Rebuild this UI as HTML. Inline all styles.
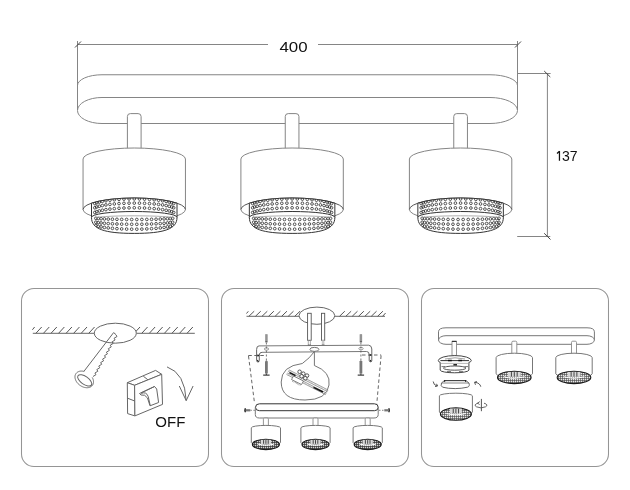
<!DOCTYPE html>
<html><head><meta charset="utf-8"><style>
html,body{margin:0;padding:0;background:#fff;}
svg{display:block;}
text{font-family:"Liberation Sans",sans-serif;fill:#111;}
svg{will-change:transform;}
</style></head><body>
<svg width="630" height="490" viewBox="0 0 630 490">
<defs><pattern id="grid" width="2" height="2" patternUnits="userSpaceOnUse"><rect width="2" height="2" fill="#d0d0d0"/><path d="M0 0.5H2M0.5 0V2" stroke="#333" stroke-width="0.7"/></pattern><pattern id="grid3" width="2" height="2" patternUnits="userSpaceOnUse"><rect width="2" height="2" fill="#e8e8e8"/><path d="M0 0.5H2M0.5 0V2" stroke="#444" stroke-width="0.6"/></pattern></defs>
<path d="M77.5 44.5H268M318 44.5H517.5" stroke="#858585" stroke-width="1" fill="none"/>
<path d="M77.5 41V110M517.5 41V110" stroke="#858585" stroke-width="1" fill="none"/>
<path d="M75 47.5L81 41.5M515 47.5L521 41.5" stroke="#444" stroke-width="1" fill="none"/>
<path d="M517.5 73.5H550.6M517.2 236.5H550.3M547.4 73.5V236.5" stroke="#858585" stroke-width="1" fill="none"/>
<path d="M544.2 71L550.3 77M544.2 233.3L550.5 239.5" stroke="#444" stroke-width="1" fill="none"/>
<path d="M77.5 85.5A24.5 10.75 0 0 1 102 74.75H490A27.5 10.75 0 0 1 517.5 85.5" stroke="#858585" stroke-width="1" fill="none"/>
<path d="M102 97.5H490A27.5 13 0 0 1 517.5 110.5A27.5 13 0 0 1 490 123.5H102A24.5 13 0 0 1 77.5 110.5A24.5 13 0 0 1 102 97.5Z" stroke="#858585" stroke-width="1" fill="none"/>
<path d="M127.4 150V116.5Q127.4 113.6 130.4 113.6H138.1Q141.1 113.6 141.1 116.5V150" fill="#fff" stroke="#858585" stroke-width="1"/>
<path d="M83.05 159A51.2 11 0 0 1 185.45 159V209.5A51.2 11.5 0 0 1 83.05 209.5Z" fill="#fff" stroke="#858585" stroke-width="1"/>
<path d="M83.05 209.5A51.2 11.5 0 0 1 185.45 209.5" fill="none" stroke="#555" stroke-width="1"/>
<clipPath id="rc134"><path d="M91.5 203.17V217.5C91.5 229 104.25 233.4 134.25 233.4C164.25 233.4 177 229 177 217.5V203.17A51.2 11.5 0 0 0 91.5 203.17Z"/></clipPath>
<path d="M91.5 203.17V217.5C91.5 229 104.25 233.4 134.25 233.4C164.25 233.4 177 229 177 217.5V203.17A51.2 11.5 0 0 0 91.5 203.17Z" fill="#fff" stroke="none"/>
<g clip-path="url(#rc134)" fill="none" stroke="#2a2a2a" stroke-width="0.8"><circle cx="173.67" cy="203.58" r="1.35"/><circle cx="171.74" cy="202.78" r="1.35"/><circle cx="169.22" cy="202.04" r="1.35"/><circle cx="166.16" cy="201.35" r="1.35"/><circle cx="162.59" cy="200.73" r="1.35"/><circle cx="158.58" cy="200.19" r="1.35"/><circle cx="154.19" cy="199.74" r="1.35"/><circle cx="149.49" cy="199.37" r="1.35"/><circle cx="144.54" cy="199.11" r="1.35"/><circle cx="139.44" cy="198.95" r="1.35"/><circle cx="134.25" cy="198.9" r="1.35"/><circle cx="129.06" cy="198.95" r="1.35"/><circle cx="123.96" cy="199.11" r="1.35"/><circle cx="119.01" cy="199.37" r="1.35"/><circle cx="114.31" cy="199.74" r="1.35"/><circle cx="109.92" cy="200.19" r="1.35"/><circle cx="105.91" cy="200.73" r="1.35"/><circle cx="102.34" cy="201.35" r="1.35"/><circle cx="99.28" cy="202.04" r="1.35"/><circle cx="96.76" cy="202.78" r="1.35"/><circle cx="94.83" cy="203.58" r="1.35"/><circle cx="173.67" cy="207.78" r="1.35"/><circle cx="171.74" cy="206.98" r="1.35"/><circle cx="169.22" cy="206.24" r="1.35"/><circle cx="166.16" cy="205.55" r="1.35"/><circle cx="162.59" cy="204.93" r="1.35"/><circle cx="158.58" cy="204.39" r="1.35"/><circle cx="154.19" cy="203.94" r="1.35"/><circle cx="149.49" cy="203.57" r="1.35"/><circle cx="144.54" cy="203.31" r="1.35"/><circle cx="139.44" cy="203.15" r="1.35"/><circle cx="134.25" cy="203.1" r="1.35"/><circle cx="129.06" cy="203.15" r="1.35"/><circle cx="123.96" cy="203.31" r="1.35"/><circle cx="119.01" cy="203.57" r="1.35"/><circle cx="114.31" cy="203.94" r="1.35"/><circle cx="109.92" cy="204.39" r="1.35"/><circle cx="105.91" cy="204.93" r="1.35"/><circle cx="102.34" cy="205.55" r="1.35"/><circle cx="99.28" cy="206.24" r="1.35"/><circle cx="96.76" cy="206.98" r="1.35"/><circle cx="94.83" cy="207.78" r="1.35"/><circle cx="173.67" cy="212.48" r="1.35"/><circle cx="171.74" cy="211.68" r="1.35"/><circle cx="169.22" cy="210.94" r="1.35"/><circle cx="166.16" cy="210.25" r="1.35"/><circle cx="162.59" cy="209.63" r="1.35"/><circle cx="158.58" cy="209.09" r="1.35"/><circle cx="154.19" cy="208.64" r="1.35"/><circle cx="149.49" cy="208.27" r="1.35"/><circle cx="144.54" cy="208.01" r="1.35"/><circle cx="139.44" cy="207.85" r="1.35"/><circle cx="134.25" cy="207.8" r="1.35"/><circle cx="129.06" cy="207.85" r="1.35"/><circle cx="123.96" cy="208.01" r="1.35"/><circle cx="119.01" cy="208.27" r="1.35"/><circle cx="114.31" cy="208.64" r="1.35"/><circle cx="109.92" cy="209.09" r="1.35"/><circle cx="105.91" cy="209.63" r="1.35"/><circle cx="102.34" cy="210.25" r="1.35"/><circle cx="99.28" cy="210.94" r="1.35"/><circle cx="96.76" cy="211.68" r="1.35"/><circle cx="94.83" cy="212.48" r="1.35"/><circle cx="172.65" cy="218.31" r="1.35"/><circle cx="170.3" cy="218.53" r="1.35"/><circle cx="167.43" cy="218.73" r="1.35"/><circle cx="164.06" cy="218.91" r="1.35"/><circle cx="160.26" cy="219.07" r="1.35"/><circle cx="156.07" cy="219.21" r="1.35"/><circle cx="151.57" cy="219.32" r="1.35"/><circle cx="146.81" cy="219.41" r="1.35"/><circle cx="141.86" cy="219.47" r="1.35"/><circle cx="136.8" cy="219.5" r="1.35"/><circle cx="131.7" cy="219.5" r="1.35"/><circle cx="126.64" cy="219.47" r="1.35"/><circle cx="121.69" cy="219.41" r="1.35"/><circle cx="116.93" cy="219.32" r="1.35"/><circle cx="112.43" cy="219.21" r="1.35"/><circle cx="108.24" cy="219.07" r="1.35"/><circle cx="104.44" cy="218.91" r="1.35"/><circle cx="101.07" cy="218.73" r="1.35"/><circle cx="98.2" cy="218.53" r="1.35"/><circle cx="95.85" cy="218.31" r="1.35"/><circle cx="172.65" cy="222.22" r="1.35"/><circle cx="170.3" cy="222.6" r="1.35"/><circle cx="167.43" cy="222.95" r="1.35"/><circle cx="164.06" cy="223.27" r="1.35"/><circle cx="160.26" cy="223.55" r="1.35"/><circle cx="156.07" cy="223.79" r="1.35"/><circle cx="151.57" cy="223.99" r="1.35"/><circle cx="146.81" cy="224.14" r="1.35"/><circle cx="141.86" cy="224.24" r="1.35"/><circle cx="136.8" cy="224.29" r="1.35"/><circle cx="131.7" cy="224.29" r="1.35"/><circle cx="126.64" cy="224.24" r="1.35"/><circle cx="121.69" cy="224.14" r="1.35"/><circle cx="116.93" cy="223.99" r="1.35"/><circle cx="112.43" cy="223.79" r="1.35"/><circle cx="108.24" cy="223.55" r="1.35"/><circle cx="104.44" cy="223.27" r="1.35"/><circle cx="101.07" cy="222.95" r="1.35"/><circle cx="98.2" cy="222.6" r="1.35"/><circle cx="95.85" cy="222.22" r="1.35"/><circle cx="172.65" cy="225.63" r="1.35"/><circle cx="170.3" cy="226.28" r="1.35"/><circle cx="167.43" cy="226.88" r="1.35"/><circle cx="164.06" cy="227.43" r="1.35"/><circle cx="160.26" cy="227.91" r="1.35"/><circle cx="156.07" cy="228.33" r="1.35"/><circle cx="151.57" cy="228.67" r="1.35"/><circle cx="146.81" cy="228.93" r="1.35"/><circle cx="141.86" cy="229.1" r="1.35"/><circle cx="136.8" cy="229.19" r="1.35"/><circle cx="131.7" cy="229.19" r="1.35"/><circle cx="126.64" cy="229.1" r="1.35"/><circle cx="121.69" cy="228.93" r="1.35"/><circle cx="116.93" cy="228.67" r="1.35"/><circle cx="112.43" cy="228.33" r="1.35"/><circle cx="108.24" cy="227.91" r="1.35"/><circle cx="104.44" cy="227.43" r="1.35"/><circle cx="101.07" cy="226.88" r="1.35"/><circle cx="98.2" cy="226.28" r="1.35"/><circle cx="95.85" cy="225.63" r="1.35"/></g>
<path d="M94 218.2A40.25 2.4 0 0 1 174.5 218.2" fill="none" stroke="#999" stroke-width="0.8"/>
<path d="M91.5 217.3A42.75 5.8 0 0 1 177 217.3" fill="none" stroke="#333" stroke-width="1"/>
<path d="M91.5 203.17V217.5C91.5 229 104.25 233.4 134.25 233.4C164.25 233.4 177 229 177 217.5V203.17A51.2 11.5 0 0 0 91.5 203.17Z" fill="none" stroke="#333" stroke-width="1"/>
<path d="M285.25 150V116.5Q285.25 113.6 288.25 113.6H295.95Q298.95 113.6 298.95 116.5V150" fill="#fff" stroke="#858585" stroke-width="1"/>
<path d="M240.9 159A51.2 11 0 0 1 343.3 159V209.5A51.2 11.5 0 0 1 240.9 209.5Z" fill="#fff" stroke="#858585" stroke-width="1"/>
<path d="M240.9 209.5A51.2 11.5 0 0 1 343.3 209.5" fill="none" stroke="#555" stroke-width="1"/>
<clipPath id="rc292"><path d="M249.35 203.17V217.5C249.35 229 262.1 233.4 292.1 233.4C322.1 233.4 334.85 229 334.85 217.5V203.17A51.2 11.5 0 0 0 249.35 203.17Z"/></clipPath>
<path d="M249.35 203.17V217.5C249.35 229 262.1 233.4 292.1 233.4C322.1 233.4 334.85 229 334.85 217.5V203.17A51.2 11.5 0 0 0 249.35 203.17Z" fill="#fff" stroke="none"/>
<g clip-path="url(#rc292)" fill="none" stroke="#2a2a2a" stroke-width="0.8"><circle cx="331.52" cy="203.58" r="1.35"/><circle cx="329.59" cy="202.78" r="1.35"/><circle cx="327.07" cy="202.04" r="1.35"/><circle cx="324.01" cy="201.35" r="1.35"/><circle cx="320.44" cy="200.73" r="1.35"/><circle cx="316.43" cy="200.19" r="1.35"/><circle cx="312.04" cy="199.74" r="1.35"/><circle cx="307.34" cy="199.37" r="1.35"/><circle cx="302.39" cy="199.11" r="1.35"/><circle cx="297.29" cy="198.95" r="1.35"/><circle cx="292.1" cy="198.9" r="1.35"/><circle cx="286.91" cy="198.95" r="1.35"/><circle cx="281.81" cy="199.11" r="1.35"/><circle cx="276.86" cy="199.37" r="1.35"/><circle cx="272.16" cy="199.74" r="1.35"/><circle cx="267.77" cy="200.19" r="1.35"/><circle cx="263.76" cy="200.73" r="1.35"/><circle cx="260.19" cy="201.35" r="1.35"/><circle cx="257.13" cy="202.04" r="1.35"/><circle cx="254.61" cy="202.78" r="1.35"/><circle cx="252.68" cy="203.58" r="1.35"/><circle cx="331.52" cy="207.78" r="1.35"/><circle cx="329.59" cy="206.98" r="1.35"/><circle cx="327.07" cy="206.24" r="1.35"/><circle cx="324.01" cy="205.55" r="1.35"/><circle cx="320.44" cy="204.93" r="1.35"/><circle cx="316.43" cy="204.39" r="1.35"/><circle cx="312.04" cy="203.94" r="1.35"/><circle cx="307.34" cy="203.57" r="1.35"/><circle cx="302.39" cy="203.31" r="1.35"/><circle cx="297.29" cy="203.15" r="1.35"/><circle cx="292.1" cy="203.1" r="1.35"/><circle cx="286.91" cy="203.15" r="1.35"/><circle cx="281.81" cy="203.31" r="1.35"/><circle cx="276.86" cy="203.57" r="1.35"/><circle cx="272.16" cy="203.94" r="1.35"/><circle cx="267.77" cy="204.39" r="1.35"/><circle cx="263.76" cy="204.93" r="1.35"/><circle cx="260.19" cy="205.55" r="1.35"/><circle cx="257.13" cy="206.24" r="1.35"/><circle cx="254.61" cy="206.98" r="1.35"/><circle cx="252.68" cy="207.78" r="1.35"/><circle cx="331.52" cy="212.48" r="1.35"/><circle cx="329.59" cy="211.68" r="1.35"/><circle cx="327.07" cy="210.94" r="1.35"/><circle cx="324.01" cy="210.25" r="1.35"/><circle cx="320.44" cy="209.63" r="1.35"/><circle cx="316.43" cy="209.09" r="1.35"/><circle cx="312.04" cy="208.64" r="1.35"/><circle cx="307.34" cy="208.27" r="1.35"/><circle cx="302.39" cy="208.01" r="1.35"/><circle cx="297.29" cy="207.85" r="1.35"/><circle cx="292.1" cy="207.8" r="1.35"/><circle cx="286.91" cy="207.85" r="1.35"/><circle cx="281.81" cy="208.01" r="1.35"/><circle cx="276.86" cy="208.27" r="1.35"/><circle cx="272.16" cy="208.64" r="1.35"/><circle cx="267.77" cy="209.09" r="1.35"/><circle cx="263.76" cy="209.63" r="1.35"/><circle cx="260.19" cy="210.25" r="1.35"/><circle cx="257.13" cy="210.94" r="1.35"/><circle cx="254.61" cy="211.68" r="1.35"/><circle cx="252.68" cy="212.48" r="1.35"/><circle cx="330.5" cy="218.31" r="1.35"/><circle cx="328.15" cy="218.53" r="1.35"/><circle cx="325.28" cy="218.73" r="1.35"/><circle cx="321.91" cy="218.91" r="1.35"/><circle cx="318.11" cy="219.07" r="1.35"/><circle cx="313.92" cy="219.21" r="1.35"/><circle cx="309.42" cy="219.32" r="1.35"/><circle cx="304.66" cy="219.41" r="1.35"/><circle cx="299.71" cy="219.47" r="1.35"/><circle cx="294.65" cy="219.5" r="1.35"/><circle cx="289.55" cy="219.5" r="1.35"/><circle cx="284.49" cy="219.47" r="1.35"/><circle cx="279.54" cy="219.41" r="1.35"/><circle cx="274.78" cy="219.32" r="1.35"/><circle cx="270.28" cy="219.21" r="1.35"/><circle cx="266.09" cy="219.07" r="1.35"/><circle cx="262.29" cy="218.91" r="1.35"/><circle cx="258.92" cy="218.73" r="1.35"/><circle cx="256.05" cy="218.53" r="1.35"/><circle cx="253.7" cy="218.31" r="1.35"/><circle cx="330.5" cy="222.22" r="1.35"/><circle cx="328.15" cy="222.6" r="1.35"/><circle cx="325.28" cy="222.95" r="1.35"/><circle cx="321.91" cy="223.27" r="1.35"/><circle cx="318.11" cy="223.55" r="1.35"/><circle cx="313.92" cy="223.79" r="1.35"/><circle cx="309.42" cy="223.99" r="1.35"/><circle cx="304.66" cy="224.14" r="1.35"/><circle cx="299.71" cy="224.24" r="1.35"/><circle cx="294.65" cy="224.29" r="1.35"/><circle cx="289.55" cy="224.29" r="1.35"/><circle cx="284.49" cy="224.24" r="1.35"/><circle cx="279.54" cy="224.14" r="1.35"/><circle cx="274.78" cy="223.99" r="1.35"/><circle cx="270.28" cy="223.79" r="1.35"/><circle cx="266.09" cy="223.55" r="1.35"/><circle cx="262.29" cy="223.27" r="1.35"/><circle cx="258.92" cy="222.95" r="1.35"/><circle cx="256.05" cy="222.6" r="1.35"/><circle cx="253.7" cy="222.22" r="1.35"/><circle cx="330.5" cy="225.63" r="1.35"/><circle cx="328.15" cy="226.28" r="1.35"/><circle cx="325.28" cy="226.88" r="1.35"/><circle cx="321.91" cy="227.43" r="1.35"/><circle cx="318.11" cy="227.91" r="1.35"/><circle cx="313.92" cy="228.33" r="1.35"/><circle cx="309.42" cy="228.67" r="1.35"/><circle cx="304.66" cy="228.93" r="1.35"/><circle cx="299.71" cy="229.1" r="1.35"/><circle cx="294.65" cy="229.19" r="1.35"/><circle cx="289.55" cy="229.19" r="1.35"/><circle cx="284.49" cy="229.1" r="1.35"/><circle cx="279.54" cy="228.93" r="1.35"/><circle cx="274.78" cy="228.67" r="1.35"/><circle cx="270.28" cy="228.33" r="1.35"/><circle cx="266.09" cy="227.91" r="1.35"/><circle cx="262.29" cy="227.43" r="1.35"/><circle cx="258.92" cy="226.88" r="1.35"/><circle cx="256.05" cy="226.28" r="1.35"/><circle cx="253.7" cy="225.63" r="1.35"/></g>
<path d="M251.85 218.2A40.25 2.4 0 0 1 332.35 218.2" fill="none" stroke="#999" stroke-width="0.8"/>
<path d="M249.35 217.3A42.75 5.8 0 0 1 334.85 217.3" fill="none" stroke="#333" stroke-width="1"/>
<path d="M249.35 203.17V217.5C249.35 229 262.1 233.4 292.1 233.4C322.1 233.4 334.85 229 334.85 217.5V203.17A51.2 11.5 0 0 0 249.35 203.17Z" fill="none" stroke="#333" stroke-width="1"/>
<path d="M453.75 150V116.5Q453.75 113.6 456.75 113.6H464.45Q467.45 113.6 467.45 116.5V150" fill="#fff" stroke="#858585" stroke-width="1"/>
<path d="M409.4 159A51.2 11 0 0 1 511.8 159V209.5A51.2 11.5 0 0 1 409.4 209.5Z" fill="#fff" stroke="#858585" stroke-width="1"/>
<path d="M409.4 209.5A51.2 11.5 0 0 1 511.8 209.5" fill="none" stroke="#555" stroke-width="1"/>
<clipPath id="rc460"><path d="M417.85 203.17V217.5C417.85 229 430.6 233.4 460.6 233.4C490.6 233.4 503.35 229 503.35 217.5V203.17A51.2 11.5 0 0 0 417.85 203.17Z"/></clipPath>
<path d="M417.85 203.17V217.5C417.85 229 430.6 233.4 460.6 233.4C490.6 233.4 503.35 229 503.35 217.5V203.17A51.2 11.5 0 0 0 417.85 203.17Z" fill="#fff" stroke="none"/>
<g clip-path="url(#rc460)" fill="none" stroke="#2a2a2a" stroke-width="0.8"><circle cx="500.02" cy="203.58" r="1.35"/><circle cx="498.09" cy="202.78" r="1.35"/><circle cx="495.57" cy="202.04" r="1.35"/><circle cx="492.51" cy="201.35" r="1.35"/><circle cx="488.94" cy="200.73" r="1.35"/><circle cx="484.93" cy="200.19" r="1.35"/><circle cx="480.54" cy="199.74" r="1.35"/><circle cx="475.84" cy="199.37" r="1.35"/><circle cx="470.89" cy="199.11" r="1.35"/><circle cx="465.79" cy="198.95" r="1.35"/><circle cx="460.6" cy="198.9" r="1.35"/><circle cx="455.41" cy="198.95" r="1.35"/><circle cx="450.31" cy="199.11" r="1.35"/><circle cx="445.36" cy="199.37" r="1.35"/><circle cx="440.66" cy="199.74" r="1.35"/><circle cx="436.27" cy="200.19" r="1.35"/><circle cx="432.26" cy="200.73" r="1.35"/><circle cx="428.69" cy="201.35" r="1.35"/><circle cx="425.63" cy="202.04" r="1.35"/><circle cx="423.11" cy="202.78" r="1.35"/><circle cx="421.18" cy="203.58" r="1.35"/><circle cx="500.02" cy="207.78" r="1.35"/><circle cx="498.09" cy="206.98" r="1.35"/><circle cx="495.57" cy="206.24" r="1.35"/><circle cx="492.51" cy="205.55" r="1.35"/><circle cx="488.94" cy="204.93" r="1.35"/><circle cx="484.93" cy="204.39" r="1.35"/><circle cx="480.54" cy="203.94" r="1.35"/><circle cx="475.84" cy="203.57" r="1.35"/><circle cx="470.89" cy="203.31" r="1.35"/><circle cx="465.79" cy="203.15" r="1.35"/><circle cx="460.6" cy="203.1" r="1.35"/><circle cx="455.41" cy="203.15" r="1.35"/><circle cx="450.31" cy="203.31" r="1.35"/><circle cx="445.36" cy="203.57" r="1.35"/><circle cx="440.66" cy="203.94" r="1.35"/><circle cx="436.27" cy="204.39" r="1.35"/><circle cx="432.26" cy="204.93" r="1.35"/><circle cx="428.69" cy="205.55" r="1.35"/><circle cx="425.63" cy="206.24" r="1.35"/><circle cx="423.11" cy="206.98" r="1.35"/><circle cx="421.18" cy="207.78" r="1.35"/><circle cx="500.02" cy="212.48" r="1.35"/><circle cx="498.09" cy="211.68" r="1.35"/><circle cx="495.57" cy="210.94" r="1.35"/><circle cx="492.51" cy="210.25" r="1.35"/><circle cx="488.94" cy="209.63" r="1.35"/><circle cx="484.93" cy="209.09" r="1.35"/><circle cx="480.54" cy="208.64" r="1.35"/><circle cx="475.84" cy="208.27" r="1.35"/><circle cx="470.89" cy="208.01" r="1.35"/><circle cx="465.79" cy="207.85" r="1.35"/><circle cx="460.6" cy="207.8" r="1.35"/><circle cx="455.41" cy="207.85" r="1.35"/><circle cx="450.31" cy="208.01" r="1.35"/><circle cx="445.36" cy="208.27" r="1.35"/><circle cx="440.66" cy="208.64" r="1.35"/><circle cx="436.27" cy="209.09" r="1.35"/><circle cx="432.26" cy="209.63" r="1.35"/><circle cx="428.69" cy="210.25" r="1.35"/><circle cx="425.63" cy="210.94" r="1.35"/><circle cx="423.11" cy="211.68" r="1.35"/><circle cx="421.18" cy="212.48" r="1.35"/><circle cx="499" cy="218.31" r="1.35"/><circle cx="496.65" cy="218.53" r="1.35"/><circle cx="493.78" cy="218.73" r="1.35"/><circle cx="490.41" cy="218.91" r="1.35"/><circle cx="486.61" cy="219.07" r="1.35"/><circle cx="482.42" cy="219.21" r="1.35"/><circle cx="477.92" cy="219.32" r="1.35"/><circle cx="473.16" cy="219.41" r="1.35"/><circle cx="468.21" cy="219.47" r="1.35"/><circle cx="463.15" cy="219.5" r="1.35"/><circle cx="458.05" cy="219.5" r="1.35"/><circle cx="452.99" cy="219.47" r="1.35"/><circle cx="448.04" cy="219.41" r="1.35"/><circle cx="443.28" cy="219.32" r="1.35"/><circle cx="438.78" cy="219.21" r="1.35"/><circle cx="434.59" cy="219.07" r="1.35"/><circle cx="430.79" cy="218.91" r="1.35"/><circle cx="427.42" cy="218.73" r="1.35"/><circle cx="424.55" cy="218.53" r="1.35"/><circle cx="422.2" cy="218.31" r="1.35"/><circle cx="499" cy="222.22" r="1.35"/><circle cx="496.65" cy="222.6" r="1.35"/><circle cx="493.78" cy="222.95" r="1.35"/><circle cx="490.41" cy="223.27" r="1.35"/><circle cx="486.61" cy="223.55" r="1.35"/><circle cx="482.42" cy="223.79" r="1.35"/><circle cx="477.92" cy="223.99" r="1.35"/><circle cx="473.16" cy="224.14" r="1.35"/><circle cx="468.21" cy="224.24" r="1.35"/><circle cx="463.15" cy="224.29" r="1.35"/><circle cx="458.05" cy="224.29" r="1.35"/><circle cx="452.99" cy="224.24" r="1.35"/><circle cx="448.04" cy="224.14" r="1.35"/><circle cx="443.28" cy="223.99" r="1.35"/><circle cx="438.78" cy="223.79" r="1.35"/><circle cx="434.59" cy="223.55" r="1.35"/><circle cx="430.79" cy="223.27" r="1.35"/><circle cx="427.42" cy="222.95" r="1.35"/><circle cx="424.55" cy="222.6" r="1.35"/><circle cx="422.2" cy="222.22" r="1.35"/><circle cx="499" cy="225.63" r="1.35"/><circle cx="496.65" cy="226.28" r="1.35"/><circle cx="493.78" cy="226.88" r="1.35"/><circle cx="490.41" cy="227.43" r="1.35"/><circle cx="486.61" cy="227.91" r="1.35"/><circle cx="482.42" cy="228.33" r="1.35"/><circle cx="477.92" cy="228.67" r="1.35"/><circle cx="473.16" cy="228.93" r="1.35"/><circle cx="468.21" cy="229.1" r="1.35"/><circle cx="463.15" cy="229.19" r="1.35"/><circle cx="458.05" cy="229.19" r="1.35"/><circle cx="452.99" cy="229.1" r="1.35"/><circle cx="448.04" cy="228.93" r="1.35"/><circle cx="443.28" cy="228.67" r="1.35"/><circle cx="438.78" cy="228.33" r="1.35"/><circle cx="434.59" cy="227.91" r="1.35"/><circle cx="430.79" cy="227.43" r="1.35"/><circle cx="427.42" cy="226.88" r="1.35"/><circle cx="424.55" cy="226.28" r="1.35"/><circle cx="422.2" cy="225.63" r="1.35"/></g>
<path d="M420.35 218.2A40.25 2.4 0 0 1 500.85 218.2" fill="none" stroke="#999" stroke-width="0.8"/>
<path d="M417.85 217.3A42.75 5.8 0 0 1 503.35 217.3" fill="none" stroke="#333" stroke-width="1"/>
<path d="M417.85 203.17V217.5C417.85 229 430.6 233.4 460.6 233.4C490.6 233.4 503.35 229 503.35 217.5V203.17A51.2 11.5 0 0 0 417.85 203.17Z" fill="none" stroke="#333" stroke-width="1"/>
<rect x="21.5" y="288.5" width="187" height="178" rx="12.5" fill="none" stroke="#959595" stroke-width="1.05"/>
<rect x="221.5" y="288.5" width="187" height="178" rx="12.5" fill="none" stroke="#959595" stroke-width="1.05"/>
<rect x="421.5" y="288.5" width="187" height="178" rx="12.5" fill="none" stroke="#959595" stroke-width="1.05"/>
<path d="M32.8 333.3H94.4M136.3 333.3H194.8" stroke="#666" stroke-width="1" fill="none"/>
<path d="M35.9 333.3L41.7 327M43.45 333.3L49.25 327M51 333.3L56.8 327M58.55 333.3L64.35 327M66.1 333.3L71.9 327M73.65 333.3L79.45 327M81.2 333.3L87 327M88.75 333.3L94.55 327M134.2 333.3L140 327M141.75 333.3L147.55 327M149.3 333.3L155.1 327M156.85 333.3L162.65 327M164.4 333.3L170.2 327M171.95 333.3L177.75 327M179.5 333.3L185.3 327M187.05 333.3L192.85 327M32.4 329.8L34.6 327" stroke="#555" stroke-width="1" fill="none"/>
<ellipse cx="115.3" cy="333.2" rx="21" ry="10" fill="#fff" stroke="#666" stroke-width="1"/>
<path d="M83.9 371.4L113.6 332.6L116 334.6" stroke="#666" stroke-width="1" fill="none"/>
<path d="M116 334.8L117.01 336.49L114.08 338.28L115.09 339.96L112.17 341.75L113.18 343.44L110.25 345.23L111.26 346.91L108.33 348.7L109.34 350.39L106.42 352.18L107.43 353.86L104.5 355.65L105.51 357.34L102.58 359.12L103.59 360.81L100.67 362.6L101.68 364.29L98.75 366.07L99.76 367.76L96.83 369.55L97.84 371.24L94.92 373.02L95.93 374.71L93 376.5" stroke="#555" stroke-width="0.9" fill="none" stroke-linejoin="round"/>
<path d="M84.22 371.44L83.74 371.32L83.26 371.23L82.77 371.16L82.3 371.11L81.83 371.08L81.36 371.08L80.9 371.09L80.46 371.13L80.02 371.2L79.59 371.28L79.18 371.39L78.78 371.52L78.39 371.68L78.03 371.85L77.68 372.04L77.34 372.26L77.03 372.49L76.73 372.74L76.46 373.01L76.21 373.3L75.98 373.61L75.77 373.93L75.58 374.26L75.42 374.61L75.29 374.98L75.17 375.35L75.09 375.74L75.03 376.13L74.99 376.54L74.98 376.95L74.99 377.37L75.03 377.8L75.1 378.23L75.19 378.66L75.3 379.1L75.44 379.53L75.6 379.97L75.79 380.4L76 380.83L76.23 381.26L76.49 381.68L76.76 382.1L77.06 382.51L77.38 382.91L77.71 383.3L78.06 383.68L78.43 384.04L78.82 384.4L79.22 384.74L79.64 385.07L80.06 385.38L80.5 385.67L80.95 385.95L81.41 386.21L81.87 386.45L82.35 386.68L82.82 386.88L83.31 387.06L83.79 387.22L84.28 387.36L84.76 387.48L85.24 387.57L85.73 387.64L86.2 387.69L86.67 387.72L87.14 387.72L87.6 387.71L88.04 387.67L88.48 387.6L88.91 387.52L89.32 387.41L89.72 387.28L90.11 387.12L90.47 386.95L90.82 386.76L91.16 386.54L91.47 386.31L91.77 386.06L92.04 385.79L92.29 385.5L92.52 385.19L92.73 384.87L92.92 384.54L93.08 384.19L93.21 383.82L93.33 383.45L93.41 383.06L93.47 382.67L93.51 382.26L93.52 381.85L93.51 381.43L93.47 381L93.4 380.57L93.31 380.14L93.2 379.7L93.06 379.27L92.9 378.83L92.71 378.4L92.5 377.97L92.27 377.54L92.19 377.4" stroke="#666" stroke-width="1" fill="none"/>
<ellipse cx="0" cy="0" rx="8.2" ry="3.9" transform="translate(84.7,380.4) rotate(35)" stroke="#666" stroke-width="1" fill="none"/>
<path d="M127.3 382.7L155.6 370.4L161.7 374.3L134.6 385.3Z" fill="#fff" stroke="#666" stroke-width="1" fill="none"/>
<path d="M127.3 382.7L134.6 385.3L134.9 415.9L127.6 413.6Z" fill="#fff" stroke="#666" stroke-width="1" fill="none"/>
<path d="M134.6 385.3L161.7 374.3L162.5 404.4L134.9 415.9Z" fill="#fff" stroke="#666" stroke-width="1" fill="none"/>
<path d="M143.3 376.2L147.9 379.8M127.5 398.2L134.7 401" stroke="#666" stroke-width="1" fill="none"/>
<path d="M139.5 393.5L154.5 386.5L156.7 389L158.6 402.5L150 405.8L147.5 398Q145 394 141 395Z" fill="#fff" stroke="#666" stroke-width="1" fill="none"/>
<path d="M154.5 386.5L141 393M141.3 393.4Q146.3 391.3 148.2 396.5L150.2 405.4" stroke="#666" stroke-width="1" fill="none"/>
<path d="M167 366.9Q185 373 186.2 400.6M179.3 386L186.2 400.6L193.1 386" stroke="#666" stroke-width="1" fill="none"/>
<path d="M246.5 316.3H299M334.8 316.3H385" stroke="#666" stroke-width="1" fill="none"/>
<path d="M246.5 313.5L248.3 311.3M248.9 316.3L254.2 311.2M255.45 316.3L260.75 311.2M262 316.3L267.3 311.2M268.55 316.3L273.85 311.2M275.1 316.3L280.4 311.2M281.65 316.3L286.95 311.2M288.2 316.3L293.5 311.2M294.75 316.3L300.05 311.2M339.5 316.3L344.8 311.2M345.85 316.3L351.15 311.2M352.2 316.3L357.5 311.2M358.55 316.3L363.85 311.2M364.9 316.3L370.2 311.2M371.25 316.3L376.55 311.2M377.6 316.3L382.9 311.2M382.6 316.3L385.6 313" stroke="#555" stroke-width="1" fill="none"/>
<ellipse cx="316.9" cy="315.7" rx="17.9" ry="8.6" fill="#fff" stroke="#666" stroke-width="1" fill="none"/>
<rect x="307.6" y="313.3" width="3.6" height="27" fill="#fff" stroke="#555" stroke-width="0.9"/>
<rect x="321.5" y="313.3" width="3.2" height="27" fill="#fff" stroke="#555" stroke-width="0.9"/>
<path d="M308.3 340.3V345.5M310.4 340.3V345.5" stroke="#999" stroke-width="0.8"/>
<rect x="321.8" y="340.3" width="2.6" height="5" fill="#ccc"/>
<path d="M307.9 345.3H310.8M321.8 345.3H324.5" stroke="#222" stroke-width="1.2"/>
<path d="M262 352.3L366.5 351.5M259 345.9L368.7 345.2" stroke="#777" stroke-width="1" fill="none"/>
<path d="M259 345.9Q256.6 345.9 256.6 349.5V360.6Q256.6 362 258 362Q259.3 362 259.3 360.6V355Q259.3 352.3 262 352.3" stroke="#666" stroke-width="1" fill="none"/>
<path d="M368.7 345.2Q371.8 345.6 371.8 349V360.5Q371.8 361.8 370.5 361.8Q369.2 361.8 369.2 360.5V354.5Q369.2 351.5 366.5 351.5" stroke="#666" stroke-width="1" fill="none"/>
<circle cx="258" cy="355.5" r="1.1" fill="#222"/><circle cx="370.5" cy="355" r="1.1" fill="#222"/>
<path d="M257.2 360.2L258.6 361.6M370 360.2L371.3 361.5" stroke="#222" stroke-width="1.2"/>
<ellipse cx="314.4" cy="349.4" rx="4.5" ry="2" fill="#fff" stroke="#666" stroke-width="0.9"/>
<ellipse cx="266.5" cy="349" rx="2.2" ry="1.2" fill="none" stroke="#777" stroke-width="0.7"/>
<ellipse cx="361" cy="348.6" rx="2.2" ry="1.2" fill="none" stroke="#777" stroke-width="0.7"/>
<rect x="265.2" y="334.4" width="2.4" height="8" fill="#666"/>
<path d="M265.1 336H267.7M265.1 338H267.7M265.1 340H267.7" stroke="#fff" stroke-width="0.6"/>
<path d="M266.4 342.5V360" stroke="#555" stroke-width="0.8" stroke-dasharray="2 2"/>
<path d="M265 361.5L266.4 360L267.8 361.5V373.5H265Z" fill="#777"/>
<path d="M263.2 375.2H269.6M266.4 373.5V375" stroke="#444" stroke-width="1.2"/>
<rect x="359.7" y="334.4" width="2.4" height="8" fill="#666"/>
<path d="M359.6 336H362.2M359.6 338H362.2M359.6 340H362.2" stroke="#fff" stroke-width="0.6"/>
<path d="M360.9 342.5V360" stroke="#555" stroke-width="0.8" stroke-dasharray="2 2"/>
<path d="M359.5 361.5L360.9 360L362.3 361.5V373.5H359.5Z" fill="#777"/>
<path d="M357.7 375.2H364.1M360.9 373.5V375" stroke="#444" stroke-width="1.2"/>
<path d="M248.3 355.5H266M248.5 356L254.5 403" stroke="#555" stroke-width="0.9" stroke-dasharray="3.5 2.5" fill="none"/>
<path d="M362 355H381.1M381.1 355.5L376.8 403.5" stroke="#555" stroke-width="0.9" stroke-dasharray="3.5 2.5" fill="none"/>
<path d="M302.3 363.5Q310 358 314.4 351.5V365.5Q331 372 329 385Q327 400 305 400Q281.2 400 281.2 382Q281.2 366 302.3 363.5Z" fill="#fff" stroke="#666" stroke-width="0.9"/>
<path d="M288.99 369.89L328.19 390.09M288.21 371.4L327.41 391.6M287.39 373L326.59 393.2M286.61 374.51L325.81 394.71" stroke="#777" stroke-width="0.7"/>
<path d="M288.99 369.89L288.21 371.4M287.39 373L286.61 374.51M290.41 370.62L289.63 372.13M288.81 373.73L288.03 375.24M291.84 371.35L291.06 372.87M290.23 374.47L289.45 375.98M293.26 372.09L292.48 373.6M291.65 375.2L290.88 376.71M294.68 372.82L293.9 374.33M293.08 375.93L292.3 377.44M296.1 373.55L295.32 375.06M294.5 376.66L293.72 378.18M297.52 374.29L296.75 375.8M295.92 377.4L295.14 378.91M298.95 375.02L298.17 376.53M297.34 378.13L296.56 379.64M300.37 375.75L299.59 377.26M298.77 378.86L297.99 380.37M301.79 376.48L301.01 378M300.19 379.6L299.41 381.11M303.21 377.22L302.43 378.73M301.61 380.33L300.83 381.84M304.64 377.95L303.86 379.46M303.03 381.06L302.25 382.57M306.06 378.68L305.28 380.19M304.45 381.79L303.68 383.31M307.48 379.42L306.7 380.93M305.88 382.53L305.1 384.04M308.9 380.15L308.12 381.66M307.3 383.26L306.52 384.77M310.33 380.88L309.55 382.39M308.72 383.99L307.94 385.5M311.75 381.62L310.97 383.13M310.14 384.73L309.37 386.24M313.17 382.35L312.39 383.86M311.57 385.46L310.79 386.97M314.59 383.08L313.81 384.59M312.99 386.19L312.21 387.7M316.01 383.81L315.24 385.33M314.41 386.93L313.63 388.44M317.44 384.55L316.66 386.06M315.83 387.66L315.05 389.17M318.86 385.28L318.08 386.79M317.26 388.39L316.48 389.9M320.28 386.01L319.5 387.52M318.68 389.12L317.9 390.64M321.7 386.75L320.92 388.26M320.1 389.86L319.32 391.37M323.13 387.48L322.35 388.99M321.52 390.59L320.74 392.1M324.55 388.21L323.77 389.72M322.94 391.32L322.17 392.83M325.97 388.94L325.19 390.46M324.37 392.06L323.59 393.57M327.39 389.68L326.61 391.19M325.79 392.79L325.01 394.3" stroke="#aaa" stroke-width="0.5"/>
<path d="M289.5 372.6L295.5 375.6M313.5 387.3L323 392" stroke="#111" stroke-width="1.5"/>
<path d="M291.5 379.5L301.5 384.5L303.5 381L293.5 376Z" fill="#fff" stroke="#555" stroke-width="0.7"/>
<path d="M292.5 381L301 385.5" stroke="#777" stroke-width="1.4" stroke-dasharray="0.6 0.8"/>
<circle cx="299.6" cy="371.8" r="1.8" fill="#fff" stroke="#333" stroke-width="0.8"/>
<circle cx="303.3" cy="373.7" r="1.8" fill="#fff" stroke="#333" stroke-width="0.8"/>
<circle cx="307" cy="375.6" r="1.8" fill="#fff" stroke="#333" stroke-width="0.8"/>
<circle cx="301.6" cy="376.2" r="1.8" fill="#fff" stroke="#333" stroke-width="0.8"/>
<circle cx="305.3" cy="378.2" r="1.8" fill="#fff" stroke="#333" stroke-width="0.8"/>
<path d="M259.5 403.8H374.5Q378.2 403.8 378.2 407.3Q378.2 410.7 374.5 410.7H259.5Q255.5 410.7 255.5 407.3Q255.5 403.8 259.5 403.8Z" fill="#fff" stroke="#333" stroke-width="1"/>
<path d="M255.3 407.3V414.5Q255.3 418 259.4 418H374Q378.2 418 378.2 414.5V407.3" fill="none" stroke="#777" stroke-width="1"/>
<path d="M250.4 410.3H255M379 410.3H384" stroke="#666" stroke-width="0.8" stroke-dasharray="1.5 1.5"/>
<ellipse cx="245.2" cy="410.3" rx="0.9" ry="2.2" fill="#222"/><rect x="245.5" y="409.2" width="4.8" height="2.2" fill="#777"/>
<ellipse cx="389" cy="410.3" rx="0.9" ry="2.2" fill="#222"/><rect x="384.3" y="409.2" width="4.8" height="2.2" fill="#777"/>
<rect x="263.4" y="418" width="5" height="9.4" rx="1.2" fill="#fff" stroke="#888" stroke-width="0.9"/>
<path d="M251.3 427.8A14.6 2.4 0 0 1 280.5 427.8V442.6A14.6 2.83 0 0 1 251.3 442.6Z" fill="#fff" stroke="#777" stroke-width="1"/>
<ellipse cx="265.9" cy="444.45" rx="13.5" ry="5.15" fill="url(#grid)" stroke="#1a1a1a" stroke-width="1.1"/>
<rect x="260.77" y="439.9" width="10.26" height="4.12" fill="#d8d8d8"/>
<path d="M263.59 440.1V443.82M265.9 440.1V443.82M268.21 440.1V443.82" stroke="#333" stroke-width="0.9"/>
<path d="M257.53 443.94Q265.9 446.25 274.27 443.94" fill="none" stroke="#fff" stroke-width="1.1"/>
<rect x="313" y="418" width="5" height="9.4" rx="1.2" fill="#fff" stroke="#888" stroke-width="0.9"/>
<path d="M300.9 427.8A14.6 2.4 0 0 1 330.1 427.8V442.6A14.6 2.83 0 0 1 300.9 442.6Z" fill="#fff" stroke="#777" stroke-width="1"/>
<ellipse cx="315.5" cy="444.45" rx="13.5" ry="5.15" fill="url(#grid)" stroke="#1a1a1a" stroke-width="1.1"/>
<rect x="310.37" y="439.9" width="10.26" height="4.12" fill="#d8d8d8"/>
<path d="M313.19 440.1V443.82M315.5 440.1V443.82M317.81 440.1V443.82" stroke="#333" stroke-width="0.9"/>
<path d="M307.13 443.94Q315.5 446.25 323.87 443.94" fill="none" stroke="#fff" stroke-width="1.1"/>
<rect x="365.2" y="418" width="5" height="9.4" rx="1.2" fill="#fff" stroke="#888" stroke-width="0.9"/>
<path d="M353.1 427.8A14.6 2.4 0 0 1 382.3 427.8V442.6A14.6 2.83 0 0 1 353.1 442.6Z" fill="#fff" stroke="#777" stroke-width="1"/>
<ellipse cx="367.7" cy="444.45" rx="13.5" ry="5.15" fill="url(#grid)" stroke="#1a1a1a" stroke-width="1.1"/>
<rect x="362.57" y="439.9" width="10.26" height="4.12" fill="#d8d8d8"/>
<path d="M365.39 440.1V443.82M367.7 440.1V443.82M370.01 440.1V443.82" stroke="#333" stroke-width="0.9"/>
<path d="M359.33 443.94Q367.7 446.25 376.07 443.94" fill="none" stroke="#fff" stroke-width="1.1"/>
<path d="M438.5 331.8Q438.5 327.8 446 327.8H587Q594.4 327.8 594.4 331.8" stroke="#777" stroke-width="1" fill="none"/>
<path d="M438.5 331.8V339.9M594.4 331.8V339.9" stroke="#777" stroke-width="1" fill="none"/>
<path d="M446 335.7H587A7.4 4.3 0 0 1 594.4 340A7.4 4.3 0 0 1 587 344.3H446A7.5 4.3 0 0 1 438.5 340A7.5 4.3 0 0 1 446 335.7Z" fill="#fff" stroke="#777" stroke-width="1" fill="none"/>
<rect x="511.8" y="341.2" width="5" height="14" rx="1.2" fill="#fff" stroke="#888" stroke-width="0.9"/>
<path d="M496.1 357.6A18.2 4.4 0 0 1 532.5 357.6V373.8A18.2 3.38 0 0 1 496.1 373.8Z" fill="#fff" stroke="#777" stroke-width="1"/>
<ellipse cx="514.3" cy="377.45" rx="16.8" ry="6.15" fill="url(#grid3)" stroke="#1a1a1a" stroke-width="1.1"/>
<rect x="507.92" y="371.9" width="12.77" height="4.92" fill="#d8d8d8"/>
<path d="M511.43 372.1V376.62M514.3 372.1V376.62M517.17 372.1V376.62" stroke="#333" stroke-width="0.9"/>
<path d="M503.88 376.84Q514.3 379.6 524.72 376.84" fill="none" stroke="#fff" stroke-width="1.1"/>
<rect x="571.5" y="341.2" width="5" height="14" rx="1.2" fill="#fff" stroke="#888" stroke-width="0.9"/>
<path d="M555.8 357.6A18.2 4.4 0 0 1 592.2 357.6V373.8A18.2 3.38 0 0 1 555.8 373.8Z" fill="#fff" stroke="#777" stroke-width="1"/>
<ellipse cx="574" cy="377.45" rx="16.8" ry="6.15" fill="url(#grid3)" stroke="#1a1a1a" stroke-width="1.1"/>
<rect x="567.62" y="371.9" width="12.77" height="4.92" fill="#d8d8d8"/>
<path d="M571.13 372.1V376.62M574 372.1V376.62M576.87 372.1V376.62" stroke="#333" stroke-width="0.9"/>
<path d="M563.58 376.84Q574 379.6 584.42 376.84" fill="none" stroke="#fff" stroke-width="1.1"/>
<rect x="452" y="341.4" width="4.5" height="14" fill="#fff" stroke="#888" stroke-width="0.9"/>
<path d="M452 341.4H456.5" stroke="#333" stroke-width="1.2"/>
<path d="M438.3 360.6A16.5 5 0 0 1 471.3 360.6Q471.3 361.8 468.9 362.4V370.1A14.35 2.7 0 0 1 440.2 370.1V362.4Q438.3 361.8 438.3 360.6Z" fill="#fff" stroke="#444" stroke-width="1"/>
<path d="M440.4 360.6H469" stroke="#333" stroke-width="1"/>
<path d="M448 360.5H451.8M458.3 360.5H462" stroke="#111" stroke-width="1.5"/>
<path d="M445 359Q455 356.6 465 359" fill="none" stroke="#888" stroke-width="0.8"/>
<path d="M440.4 363.4H469" stroke="#999" stroke-width="0.7"/>
<ellipse cx="454.7" cy="368.1" rx="11.3" ry="2.1" fill="#fff" stroke="#444" stroke-width="0.9"/>
<path d="M453.4 364.8H457" stroke="#111" stroke-width="1.4"/>
<path d="M441.5 366.6H445M464.5 366.6H468M447 371.6H451M459 371.6H463" stroke="#555" stroke-width="0.8"/>
<path d="M444.2 380.7H466.1L468.9 383Q470.2 386.2 467.5 387.2Q461 388.6 455.2 388.6Q448 388.6 442.6 387.2Q440.3 386.2 441.5 383Z" fill="#fff" stroke="#555" stroke-width="0.9"/>
<path d="M441.5 383H468.9" fill="none" stroke="#666" stroke-width="0.8"/>
<path d="M444.5 380.5H465.9" stroke="#444" stroke-width="1"/>
<path d="M444.6 380.2V381.8M465.6 380.2V381.8" stroke="#111" stroke-width="1.2"/>
<path d="M433.2 381.5Q433.5 385 437 386M435 386.5L437.6 386L436.5 383.8" fill="none" stroke="#444" stroke-width="0.9"/>
<path d="M480.8 386.7Q480 383 475 382.3M475.5 384.8L474.5 382.2L477 381.6" fill="none" stroke="#444" stroke-width="0.9"/>
<path d="M439.4 395.8A16.5 2.6 0 0 1 472.4 395.8V412A16.5 3.38 0 0 1 439.4 412Z" fill="#fff" stroke="#777" stroke-width="1"/>
<ellipse cx="455.9" cy="414.05" rx="15.5" ry="6.15" fill="url(#grid3)" stroke="#1a1a1a" stroke-width="1.1"/>
<rect x="450.01" y="408.5" width="11.78" height="4.92" fill="#d8d8d8"/>
<path d="M453.25 408.7V413.22M455.9 408.7V413.22M458.55 408.7V413.22" stroke="#333" stroke-width="0.9"/>
<path d="M446.29 413.43Q455.9 416.2 465.51 413.43" fill="none" stroke="#fff" stroke-width="1.1"/>
<path d="M481.4 398.9V411.2" stroke="#555" stroke-width="1"/>
<path d="M478 403.2A5.9 2.4 0 1 0 484 403.2" fill="none" stroke="#555" stroke-width="0.9"/>
<path d="M479.8 401.6L477.6 403.1L479.6 404.6" fill="none" stroke="#555" stroke-width="0.9"/>
<path d="M557.0 153.5L559.45 151.3M559.45 151.1V160.85" stroke="#111" stroke-width="1.25" fill="none"/>
<text transform="translate(279.46 51.5) scale(0.1687 0.1480)" font-size="100">400</text>
<text transform="translate(562.04 160.8) scale(0.1405 0.1405)" font-size="100">37</text>
<text transform="translate(155.35 426.6) scale(0.1500 0.1500)" font-size="100">OFF</text>
</svg>
</body></html>
